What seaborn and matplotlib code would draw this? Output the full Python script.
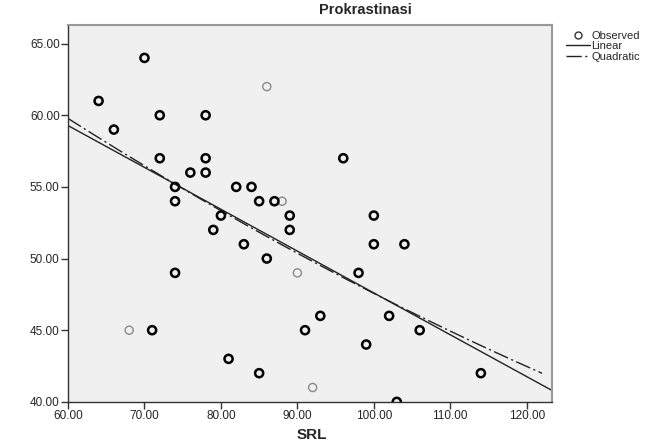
import numpy as np
import pandas as pd
import matplotlib
matplotlib.use("Agg")
import matplotlib.pyplot as plt
from matplotlib.lines import Line2D
import seaborn as sns

# SRL vs Prokrastinasi (bold circles in the SPSS chart = overlapping cases)
srl = [64, 70, 66, 72, 78, 86, 72, 78, 76, 78, 74, 82, 84, 74, 85, 87, 88, 80, 89, 79, 89,
       83, 86, 90, 74, 68, 71, 81, 85, 91, 92, 93, 96, 100, 100, 104, 98, 102, 106, 99, 114, 103]
prok = [61, 64, 59, 60, 60, 62, 57, 57, 56, 56, 55, 55, 55, 54, 54, 54, 54, 53, 53, 52, 52,
        51, 50, 49, 49, 45, 45, 43, 42, 45, 41, 46, 57, 53, 51, 51, 49, 46, 45, 44, 42, 40]
n_cases = [2, 2, 2, 2, 2, 1, 2, 2, 2, 2, 2, 2, 2, 2, 2, 2, 1, 2, 2, 2, 2,
           2, 2, 1, 2, 1, 2, 2, 2, 2, 1, 2, 2, 2, 2, 2, 2, 2, 2, 2, 2, 2]

# fitted curves (b0, b1[, b2])
linear_fit = [76.8, -0.292]
quadratic_fit = [83.10, -0.4388, 0.000835]

df = pd.DataFrame({"SRL": srl, "Prokrastinasi": prok, "n": n_cases})

sns.set_style("white")
plt.rcParams["font.family"] = ["Liberation Sans", "DejaVu Sans"]

fig = plt.figure(figsize=(6.54, 4.46), dpi=100)
ax = fig.add_axes([0.104, 0.099, 0.740, 0.845])
ax.set_facecolor("#f0f0f0")
xmin, xmax = 60, 123.3

single = df[df["n"] == 1]
multi = df[df["n"] > 1]
sns.scatterplot(data=single, x="SRL", y="Prokrastinasi", ax=ax, marker="o", s=34,
                facecolors="none", edgecolor="#8a8a8a", linewidth=1.0, zorder=3)
sns.scatterplot(data=multi, x="SRL", y="Prokrastinasi", ax=ax, marker="o", s=34,
                facecolors="none", edgecolor="black", linewidth=1.8, zorder=3)

grid = np.linspace(xmin, xmax, 200)
lin = pd.DataFrame({"x": grid, "y": linear_fit[0] + linear_fit[1] * grid})
grid_q = np.linspace(xmin, 122, 200)
quad = pd.DataFrame({"x": grid_q,
                     "y": quadratic_fit[0] + quadratic_fit[1] * grid_q + quadratic_fit[2] * grid_q ** 2})
sns.lineplot(data=lin, x="x", y="y", ax=ax, color="#222222", lw=1.0)
sns.lineplot(data=quad, x="x", y="y", ax=ax, color="#222222", lw=1.0,
             dashes=(11, 2.5, 1.5, 2.5))

ax.set_xlim(xmin, xmax)
ax.set_ylim(40, 66.3)
ax.set_xticks([60, 70, 80, 90, 100, 110, 120])
ax.set_yticks([40, 45, 50, 55, 60, 65])
ax.xaxis.set_major_formatter(lambda v, p: f"{v:.2f}")
ax.yaxis.set_major_formatter(lambda v, p: f"{v:.2f}")
ax.tick_params(direction="out", length=5, width=1, color="#333333", labelsize=8.5,
               bottom=True, left=True, pad=1)
ax.set_xlabel("")
ax.set_ylabel("")
for side in ["left", "bottom"]:
    ax.spines[side].set_color("#333333")
    ax.spines[side].set_linewidth(1.0)
for side in ["top", "right"]:
    ax.spines[side].set_color("#9a9a9a")
    ax.spines[side].set_linewidth(1.5)

fig.text(365 / 654, 1 - 10 / 446, "Prokrastinasi", ha="center", va="center",
         fontsize=10.5, fontweight="bold")
fig.text(312 / 654, 1 - 435 / 446, "SRL", ha="center", va="center",
         fontsize=11, fontweight="bold")

handles = [
    Line2D([], [], marker="o", ls="none", mfc="none", mec="#333333", ms=5, mew=1.0),
    Line2D([], [], color="#222222", lw=1.0),
    Line2D([], [], color="#222222", lw=1.0, dashes=(11, 2.5, 1.5, 2.5)),
]
fig.legend(handles, ["Observed", "Linear", "Quadratic"], loc="upper left",
           bbox_to_anchor=(560 / 654, 1 - 25 / 446), frameon=False, fontsize=8,
           handlelength=2.2, handletextpad=0.1, labelspacing=0.05, borderpad=0)

fig.savefig("out.png", dpi=100)
